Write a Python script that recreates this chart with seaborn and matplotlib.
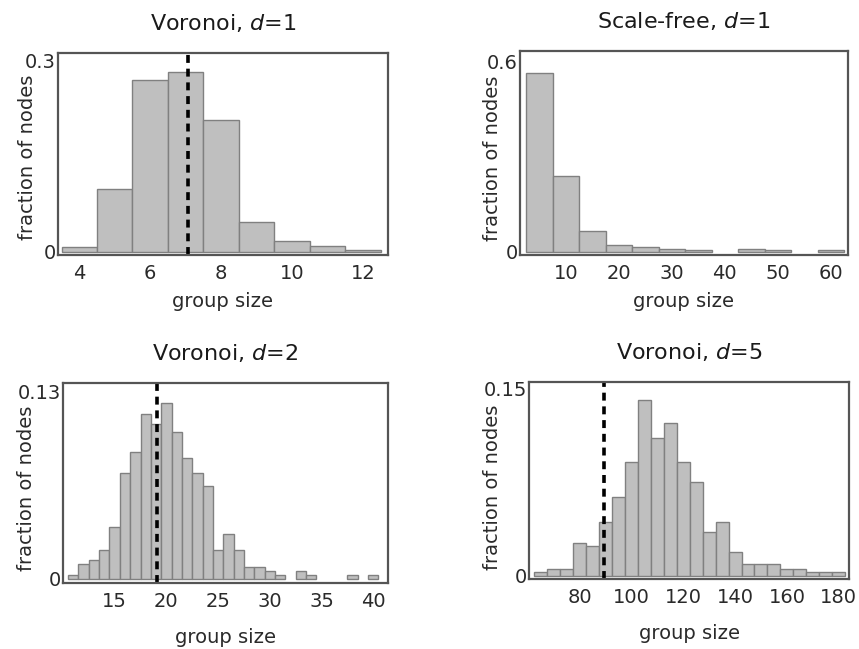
import numpy as np
import pandas as pd
import matplotlib
matplotlib.use("Agg")
import matplotlib.pyplot as plt
import seaborn as sns

sns.set_theme(style="white")
plt.rcParams['font.family'] = ['DejaVu Sans']
plt.rcParams['mathtext.fontset'] = 'dejavusans'

# ---- data (bin centres and fractions) ----
v1_sizes = [4, 5, 6, 7, 8, 9, 10, 11, 12]
v1_frac = [0.007, 0.099, 0.270, 0.282, 0.207, 0.047, 0.017, 0.009, 0.003]
v1_mean = 7.07

sf_sizes = [5, 10, 15, 20, 25, 30, 35, 40, 45, 50, 55, 60]
sf_frac = [0.564, 0.239, 0.066, 0.021, 0.014, 0.008, 0.004, 0.0, 0.010, 0.004, 0.0, 0.004]

v2_sizes = list(range(11, 41))
v2_frac = [0.003, 0.0106, 0.013, 0.020, 0.036, 0.073, 0.088, 0.114, 0.107, 0.122,
           0.1015, 0.084, 0.073, 0.064, 0.020, 0.031, 0.020, 0.008, 0.008, 0.0055,
           0.003, 0.0, 0.0055, 0.003, 0.0, 0.0, 0.0, 0.003, 0.0, 0.003]
v2_mean = 19.05

v5_sizes = list(range(65, 181, 5))
v5_frac = [0.003, 0.005, 0.005, 0.026, 0.024, 0.043, 0.063, 0.091, 0.141, 0.110,
           0.122, 0.091, 0.075, 0.035, 0.043, 0.019, 0.0096, 0.0096, 0.0096, 0.005,
           0.005, 0.003, 0.003, 0.003]
v5_mean = 89.5

titles = ["Voronoi, $d$=1", "Scale-free, $d$=1", "Voronoi, $d$=2", "Voronoi, $d$=5"]
xtick_sets = [[4, 6, 8, 10, 12], [10, 20, 30, 40, 50, 60],
              [15, 20, 25, 30, 35, 40], [80, 100, 120, 140, 160, 180]]
ytop_labels = ["0.3", "0.6", "0.13", "0.15"]
ytop_values = [0.3, 0.6, 0.13, 0.15]

panels = [
    (v1_sizes, v1_frac, 1, v1_mean),
    (sf_sizes, sf_frac, 5, None),
    (v2_sizes, v2_frac, 1, v2_mean),
    (v5_sizes, v5_frac, 5, v5_mean),
]

# layout (figure fractions)
rects = [
    [0.0675, 0.607, 0.384, 0.311],
    [0.605, 0.607, 0.382, 0.314],
    [0.0733, 0.1017, 0.378, 0.308],
    [0.616, 0.108, 0.3725, 0.3035],
]
xlims = [(3.4, 12.7), (1.3, 63.2), (10.0, 41.4), (60.6, 184.0)]
ylims = [(-0.0052, 0.3115), (-0.0105, 0.631), (-0.0028, 0.1355), (-0.0027, 0.1553)]
ylab_xy = [(-0.064, 0.485), (-0.055, 0.473), (-0.083, 0.475), (-0.084, 0.464)]
xlab_pad = [6.5, 6.5, 12, 12]

fig = plt.figure(figsize=(8.59, 6.49), dpi=100)
fig.patch.set_facecolor("white")

for i, (sizes, frac, bw, mean) in enumerate(panels):
    ax = fig.add_axes(rects[i])
    df = pd.DataFrame({"size": sizes, "frac": frac})
    lo = sizes[0] - bw / 2
    hi = sizes[-1] + bw / 2
    sns.histplot(data=df, x="size", weights="frac", binwidth=bw, binrange=(lo, hi),
                 stat="count", color="#bfbfbf", edgecolor="#808080", linewidth=1.0,
                 alpha=1.0, ax=ax)
    for p in ax.patches:
        if p.get_height() <= 0:
            p.set_visible(False)
    if mean is not None:
        ax.axvline(mean, color="black", lw=2.6, ls=(0, (2.2, 1.6)))
    ax.set_xlim(*xlims[i])
    ax.set_ylim(*ylims[i])
    ax.set_xticks(xtick_sets[i])
    ax.set_xticklabels([str(t) for t in xtick_sets[i]])
    ax.set_yticks([0, ytop_values[i]])
    ax.set_yticklabels(["0", ytop_labels[i]])
    ax.tick_params(axis="both", length=0, labelsize=14, colors="#2a2a2a")
    ax.tick_params(axis="y", pad=1.5)
    ax.tick_params(axis="x", pad=6.5)
    ax.set_xlabel("group size", fontsize=14, color="#2a2a2a", labelpad=xlab_pad[i])
    ax.set_ylabel("fraction of nodes", fontsize=14, color="#2a2a2a")
    ax.yaxis.set_label_coords(*ylab_xy[i])
    ax.set_title(titles[i], fontsize=16, color="#1a1a1a", pad=16.5)
    for s in ax.spines.values():
        s.set_visible(True)
        s.set_color("#555555")
        s.set_linewidth(1.6)

fig.savefig("out.png", dpi=100, facecolor="white")
